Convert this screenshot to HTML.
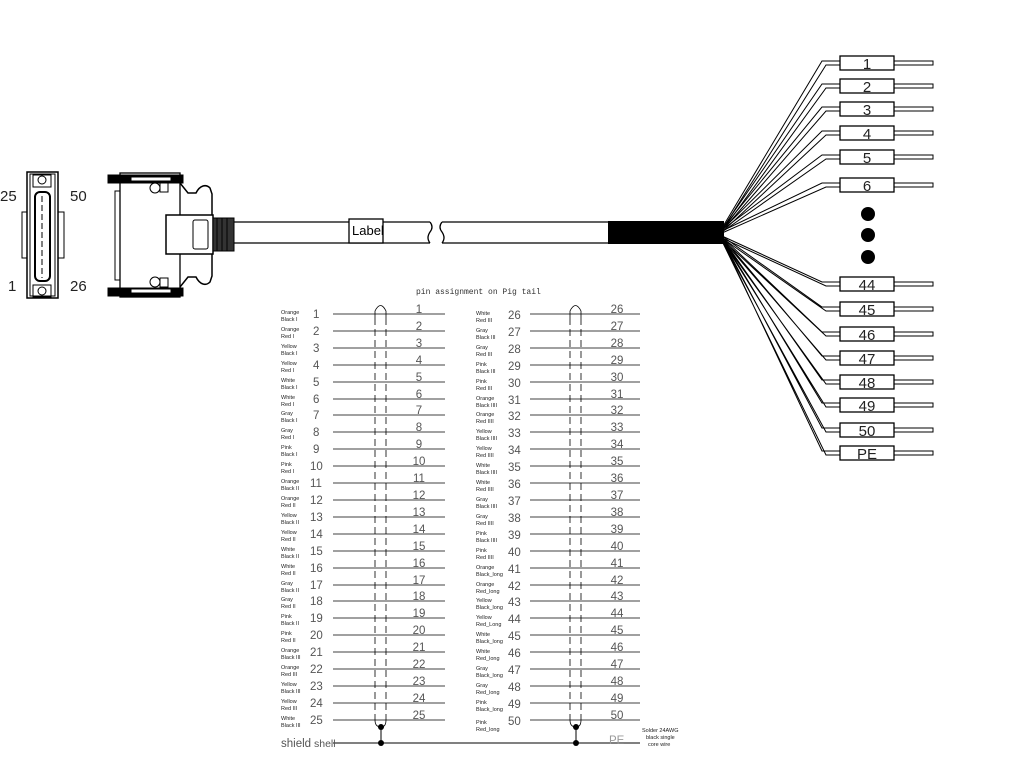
<!DOCTYPE html>
<html><head><meta charset="utf-8"><style>
html,body{margin:0;padding:0;background:#fff}
svg{display:block}
.s{font:5.5px "Liberation Sans",sans-serif;fill:#222}
.n{font:11.5px "Liberation Sans",sans-serif;fill:#333}
.p{font:15px "Liberation Sans",sans-serif;fill:#222}
line,path,polyline{stroke:#000;fill:none}
rect{stroke:#000}
.b{fill:#000}
.w{fill:#fff}
.o{fill:none}
</style></head><body>
<svg width="1024" height="769" viewBox="0 0 1024 769">
<!-- front connector -->
<rect class="o" x="27" y="172" width="31" height="126" stroke-width="1.5"/>
<rect class="o" x="30" y="174" width="25" height="122" stroke-width="1"/>
<rect class="o" x="22" y="212" width="5" height="46"/>
<rect class="o" x="58" y="212" width="6" height="46"/>
<rect class="o" x="35" y="192" width="15" height="89" rx="5" stroke-width="2"/>
<line x1="42" y1="196" x2="42" y2="278" stroke-dasharray="6,3"/>
<circle cx="42" cy="180" r="4" fill="none" stroke="#000"/><circle cx="42" cy="291" r="4" fill="none" stroke="#000"/>
<rect class="o" x="33" y="175" width="18" height="12"/><rect class="o" x="33" y="285" width="18" height="12"/>
<text x="0" y="201" class="p">25</text><text x="70" y="201" class="p">50</text>
<text x="8" y="291" class="p">1</text><text x="70" y="291" class="p">26</text>
<!-- side connector -->
<rect class="b" x="108" y="175" width="75" height="8"/>
<rect class="b" x="108" y="288" width="75" height="8"/>
<rect class="o" x="120" y="173" width="60" height="124" stroke-width="1.3"/>
<rect class="o" x="115" y="191" width="5" height="89"/>
<rect class="w" x="131" y="177" width="40" height="4"/>
<rect class="w" x="131" y="289" width="40" height="4"/>
<circle cx="155" cy="188" r="5" fill="#fff" stroke="#000"/><circle cx="155" cy="282" r="5" fill="#fff" stroke="#000"/>
<rect class="o" x="160" y="183" width="8" height="9"/><rect class="o" x="160" y="278" width="8" height="9"/>
<path d="M180,183 L188,193 L196,193 C200,185 206,184 210,188 L212,194 L212,276 L210,282 C206,286 200,285 196,277 L188,277 L180,287" stroke-width="1.5"/>
<rect class="w" x="166" y="215" width="47" height="39" stroke-width="1.5"/>
<rect class="o" x="193" y="220" width="15" height="29" rx="2"/>
<rect x="213" y="218" width="21" height="33" style="fill:#333"/>
<line x1="217" y1="218" x2="217" y2="251" stroke="#fff"/><line x1="222" y1="218" x2="222" y2="251" stroke="#fff"/><line x1="227" y1="218" x2="227" y2="251" stroke="#fff"/>
<!-- cable -->
<path d="M234,222 L430,222 M234,243 L430,243 M430,222 q4,5 0,10 q-4,6 0,11" stroke-width="1.3"/>
<path d="M442,222 L608,222 M442,243 L608,243 M442,222 q-4,5 0,10 q4,6 0,11" stroke-width="1.3"/>
<rect class="w" x="349" y="219" width="34" height="24" stroke-width="1.3"/>
<text x="352" y="235" style="font:13px 'Liberation Sans',sans-serif">Label</text>
<rect class="b" x="608" y="221" width="116" height="23" style="stroke:none"/>
<!-- fan -->
<g stroke-width="1">
<path d="M722,228 L822,61 L840,61 M722,230 L826,65 L840,65"/>
<path d="M722,229 L822,84 L840,84 M722,231 L826,88 L840,88"/>
<path d="M722,229 L822,107 L840,107 M722,231 L826,111 L840,111"/>
<path d="M722,230 L822,131 L840,131 M722,232 L826,135 L840,135"/>
<path d="M722,230 L822,155 L840,155 M722,232 L826,159 L840,159"/>
<path d="M722,231 L822,183 L840,183 M722,233 L826,187 L840,187"/>
<path d="M722,236 L822,282 L840,282 M722,238 L826,286 L840,286"/>
<path d="M722,236 L822,307 L840,307 M722,238 L826,311 L840,311"/>
<path d="M722,237 L822,332 L840,332 M722,239 L826,336 L840,336"/>
<path d="M722,237 L822,356 L840,356 M722,239 L826,360 L840,360"/>
<path d="M722,238 L822,380 L840,380 M722,240 L826,384 L840,384"/>
<path d="M722,238 L822,403 L840,403 M722,240 L826,407 L840,407"/>
<path d="M722,239 L822,428 L840,428 M722,241 L826,432 L840,432"/>
<path d="M722,239 L822,451 L840,451 M722,241 L826,455 L840,455"/>
</g>
<g stroke-width="1.3" class="w">
<rect class="w" x="840" y="56" width="54" height="14"/><rect class="w" x="840" y="79" width="54" height="14"/><rect class="w" x="840" y="102" width="54" height="14"/><rect class="w" x="840" y="126" width="54" height="14"/><rect class="w" x="840" y="150" width="54" height="14"/><rect class="w" x="840" y="178" width="54" height="14"/>
<rect class="w" x="840" y="277" width="54" height="14"/><rect class="w" x="840" y="302" width="54" height="14"/><rect class="w" x="840" y="327" width="54" height="14"/><rect class="w" x="840" y="351" width="54" height="14"/><rect class="w" x="840" y="375" width="54" height="14"/><rect class="w" x="840" y="398" width="54" height="14"/><rect class="w" x="840" y="423" width="54" height="14"/><rect class="w" x="840" y="446" width="54" height="14"/>
</g>
<g stroke-width="1">
<rect class="o" x="894" y="61" width="39" height="4"/><rect class="o" x="894" y="84" width="39" height="4"/><rect class="o" x="894" y="107" width="39" height="4"/><rect class="o" x="894" y="131" width="39" height="4"/><rect class="o" x="894" y="155" width="39" height="4"/><rect class="o" x="894" y="183" width="39" height="4"/>
<rect class="o" x="894" y="282" width="39" height="4"/><rect class="o" x="894" y="307" width="39" height="4"/><rect class="o" x="894" y="332" width="39" height="4"/><rect class="o" x="894" y="356" width="39" height="4"/><rect class="o" x="894" y="380" width="39" height="4"/><rect class="o" x="894" y="403" width="39" height="4"/><rect class="o" x="894" y="428" width="39" height="4"/><rect class="o" x="894" y="451" width="39" height="4"/>
</g>
<g class="p" text-anchor="middle">
<text x="867" y="69">1</text><text x="867" y="92">2</text><text x="867" y="115">3</text><text x="867" y="139">4</text><text x="867" y="163">5</text><text x="867" y="191">6</text>
<text x="867" y="290">44</text><text x="867" y="315">45</text><text x="867" y="340">46</text><text x="867" y="364">47</text><text x="867" y="388">48</text><text x="867" y="411">49</text><text x="867" y="436">50</text><text x="867" y="459">PE</text>
</g>
<circle cx="868" cy="214" r="7" fill="#000"/><circle cx="868" cy="235" r="7" fill="#000"/><circle cx="868" cy="257" r="7" fill="#000"/>
<!-- table -->
<text x="416" y="294" style="font:8px 'Liberation Mono',monospace;fill:#333">pin assignment on Pig tail</text>
<g stroke="#555" stroke-width="0.8" stroke-dasharray="7,4">
<line x1="375" y1="318" x2="375" y2="720"/><line x1="386" y1="318" x2="386" y2="720"/>
<line x1="570" y1="318" x2="570" y2="720"/><line x1="581" y1="318" x2="581" y2="720"/>
</g>
<path d="M375,318 L375,311 Q380.5,300 386,311 L386,318 M570,318 L570,311 Q575.5,300 581,311 L581,318" stroke="#555" stroke-width="0.8"/>
<path d="M375,720 Q375,727 381,727 Q386,727 386,720 M570,720 Q570,727 576,727 Q581,727 581,720" stroke="#555" stroke-width="0.8"/>
<line x1="381" y1="727" x2="381" y2="743"/><line x1="576" y1="727" x2="576" y2="743"/>
<line x1="333" y1="743" x2="640" y2="743" stroke="#444"/>
<circle cx="381" cy="727" r="3" fill="#000"/><circle cx="381" cy="743" r="3" fill="#000"/><circle cx="576" cy="727" r="3" fill="#000"/><circle cx="576" cy="743" r="3" fill="#000"/>
<text x="281" y="747" class="n" style="fill:#555">shield</text><text x="314" y="747" class="n" style="fill:#555;font-size:10.5px">shell</text>
<text x="609" y="744" class="n" style="fill:#999">PE</text>
<text x="642" y="732" class="s">Solder  24AWG</text><text x="646" y="739" class="s">black  single</text><text x="648" y="746" class="s">core  wire</text>
<g stroke="#444" stroke-width="0.8">
<line x1="333" y1="314" x2="445" y2="314"/><line x1="333" y1="331" x2="445" y2="331"/><line x1="333" y1="348" x2="445" y2="348"/><line x1="333" y1="365" x2="445" y2="365"/><line x1="333" y1="382" x2="445" y2="382"/><line x1="333" y1="399" x2="445" y2="399"/><line x1="333" y1="415" x2="445" y2="415"/><line x1="333" y1="432" x2="445" y2="432"/><line x1="333" y1="449" x2="445" y2="449"/><line x1="333" y1="466" x2="445" y2="466"/><line x1="333" y1="483" x2="445" y2="483"/><line x1="333" y1="500" x2="445" y2="500"/><line x1="333" y1="517" x2="445" y2="517"/><line x1="333" y1="534" x2="445" y2="534"/><line x1="333" y1="551" x2="445" y2="551"/><line x1="333" y1="568" x2="445" y2="568"/><line x1="333" y1="585" x2="445" y2="585"/><line x1="333" y1="601" x2="445" y2="601"/><line x1="333" y1="618" x2="445" y2="618"/><line x1="333" y1="635" x2="445" y2="635"/><line x1="333" y1="652" x2="445" y2="652"/><line x1="333" y1="669" x2="445" y2="669"/><line x1="333" y1="686" x2="445" y2="686"/><line x1="333" y1="703" x2="445" y2="703"/><line x1="333" y1="720" x2="445" y2="720"/>
<line x1="530" y1="314" x2="640" y2="314"/><line x1="530" y1="331" x2="640" y2="331"/><line x1="530" y1="348" x2="640" y2="348"/><line x1="530" y1="365" x2="640" y2="365"/><line x1="530" y1="382" x2="640" y2="382"/><line x1="530" y1="399" x2="640" y2="399"/><line x1="530" y1="415" x2="640" y2="415"/><line x1="530" y1="432" x2="640" y2="432"/><line x1="530" y1="449" x2="640" y2="449"/><line x1="530" y1="466" x2="640" y2="466"/><line x1="530" y1="483" x2="640" y2="483"/><line x1="530" y1="500" x2="640" y2="500"/><line x1="530" y1="517" x2="640" y2="517"/><line x1="530" y1="534" x2="640" y2="534"/><line x1="530" y1="551" x2="640" y2="551"/><line x1="530" y1="568" x2="640" y2="568"/><line x1="530" y1="585" x2="640" y2="585"/><line x1="530" y1="601" x2="640" y2="601"/><line x1="530" y1="618" x2="640" y2="618"/><line x1="530" y1="635" x2="640" y2="635"/><line x1="530" y1="652" x2="640" y2="652"/><line x1="530" y1="669" x2="640" y2="669"/><line x1="530" y1="686" x2="640" y2="686"/><line x1="530" y1="703" x2="640" y2="703"/><line x1="530" y1="720" x2="640" y2="720"/>
</g>
<!-- left numbers -->
<g class="n" style="fill:#555">
<text x="313" y="318">1</text><text x="313" y="335">2</text><text x="313" y="352">3</text><text x="313" y="369">4</text><text x="313" y="386">5</text><text x="313" y="403">6</text><text x="313" y="419">7</text><text x="313" y="436">8</text><text x="313" y="453">9</text><text x="310" y="470">10</text><text x="310" y="487">11</text><text x="310" y="504">12</text><text x="310" y="521">13</text><text x="310" y="538">14</text><text x="310" y="555">15</text><text x="310" y="572">16</text><text x="310" y="589">17</text><text x="310" y="605">18</text><text x="310" y="622">19</text><text x="310" y="639">20</text><text x="310" y="656">21</text><text x="310" y="673">22</text><text x="310" y="690">23</text><text x="310" y="707">24</text><text x="310" y="724">25</text>
</g>
<g class="n" style="fill:#555" text-anchor="middle">
<text x="419" y="313">1</text><text x="419" y="330">2</text><text x="419" y="347">3</text><text x="419" y="364">4</text><text x="419" y="381">5</text><text x="419" y="398">6</text><text x="419" y="414">7</text><text x="419" y="431">8</text><text x="419" y="448">9</text><text x="419" y="465">10</text><text x="419" y="482">11</text><text x="419" y="499">12</text><text x="419" y="516">13</text><text x="419" y="533">14</text><text x="419" y="550">15</text><text x="419" y="567">16</text><text x="419" y="584">17</text><text x="419" y="600">18</text><text x="419" y="617">19</text><text x="419" y="634">20</text><text x="419" y="651">21</text><text x="419" y="668">22</text><text x="419" y="685">23</text><text x="419" y="702">24</text><text x="419" y="719">25</text>
<text x="617" y="313">26</text><text x="617" y="330">27</text><text x="617" y="347">28</text><text x="617" y="364">29</text><text x="617" y="381">30</text><text x="617" y="398">31</text><text x="617" y="414">32</text><text x="617" y="431">33</text><text x="617" y="448">34</text><text x="617" y="465">35</text><text x="617" y="482">36</text><text x="617" y="499">37</text><text x="617" y="516">38</text><text x="617" y="533">39</text><text x="617" y="550">40</text><text x="617" y="567">41</text><text x="617" y="584">42</text><text x="617" y="600">43</text><text x="617" y="617">44</text><text x="617" y="634">45</text><text x="617" y="651">46</text><text x="617" y="668">47</text><text x="617" y="685">48</text><text x="617" y="702">49</text><text x="617" y="719">50</text>
</g>
<g class="n" style="fill:#555">
<text x="508" y="319">26</text><text x="508" y="336">27</text><text x="508" y="353">28</text><text x="508" y="370">29</text><text x="508" y="387">30</text><text x="508" y="404">31</text><text x="508" y="420">32</text><text x="508" y="437">33</text><text x="508" y="454">34</text><text x="508" y="471">35</text><text x="508" y="488">36</text><text x="508" y="505">37</text><text x="508" y="522">38</text><text x="508" y="539">39</text><text x="508" y="556">40</text><text x="508" y="573">41</text><text x="508" y="590">42</text><text x="508" y="606">43</text><text x="508" y="623">44</text><text x="508" y="640">45</text><text x="508" y="657">46</text><text x="508" y="674">47</text><text x="508" y="691">48</text><text x="508" y="708">49</text><text x="508" y="725">50</text>
</g>
<!-- color labels left -->
<g class="s">
<text x="281" y="314">Orange</text><text x="281" y="321">Black I</text>
<text x="281" y="331">Orange</text><text x="281" y="338">Red I</text>
<text x="281" y="348">Yellow</text><text x="281" y="355">Black I</text>
<text x="281" y="365">Yellow</text><text x="281" y="372">Red I</text>
<text x="281" y="382">White</text><text x="281" y="389">Black I</text>
<text x="281" y="399">White</text><text x="281" y="406">Red I</text>
<text x="281" y="415">Gray</text><text x="281" y="422">Black I</text>
<text x="281" y="432">Gray</text><text x="281" y="439">Red I</text>
<text x="281" y="449">Pink</text><text x="281" y="456">Black I</text>
<text x="281" y="466">Pink</text><text x="281" y="473">Red I</text>
<text x="281" y="483">Orange</text><text x="281" y="490">Black II</text>
<text x="281" y="500">Orange</text><text x="281" y="507">Red II</text>
<text x="281" y="517">Yellow</text><text x="281" y="524">Black II</text>
<text x="281" y="534">Yellow</text><text x="281" y="541">Red II</text>
<text x="281" y="551">White</text><text x="281" y="558">Black II</text>
<text x="281" y="568">White</text><text x="281" y="575">Red II</text>
<text x="281" y="585">Gray</text><text x="281" y="592">Black II</text>
<text x="281" y="601">Gray</text><text x="281" y="608">Red II</text>
<text x="281" y="618">Pink</text><text x="281" y="625">Black II</text>
<text x="281" y="635">Pink</text><text x="281" y="642">Red II</text>
<text x="281" y="652">Orange</text><text x="281" y="659">Black III</text>
<text x="281" y="669">Orange</text><text x="281" y="676">Red III</text>
<text x="281" y="686">Yellow</text><text x="281" y="693">Black III</text>
<text x="281" y="703">Yellow</text><text x="281" y="710">Red III</text>
<text x="281" y="720">White</text><text x="281" y="727">Black III</text>
</g>
<g class="s">
<text x="476" y="315">White</text><text x="476" y="322">Red III</text>
<text x="476" y="332">Gray</text><text x="476" y="339">Black III</text>
<text x="476" y="349">Gray</text><text x="476" y="356">Red III</text>
<text x="476" y="366">Pink</text><text x="476" y="373">Black III</text>
<text x="476" y="383">Pink</text><text x="476" y="390">Red III</text>
<text x="476" y="400">Orange</text><text x="476" y="407">Black IIII</text>
<text x="476" y="416">Orange</text><text x="476" y="423">Red IIII</text>
<text x="476" y="433">Yellow</text><text x="476" y="440">Black IIII</text>
<text x="476" y="450">Yellow</text><text x="476" y="457">Red IIII</text>
<text x="476" y="467">White</text><text x="476" y="474">Black IIII</text>
<text x="476" y="484">White</text><text x="476" y="491">Red IIII</text>
<text x="476" y="501">Gray</text><text x="476" y="508">Black IIII</text>
<text x="476" y="518">Gray</text><text x="476" y="525">Red IIII</text>
<text x="476" y="535">Pink</text><text x="476" y="542">Black IIII</text>
<text x="476" y="552">Pink</text><text x="476" y="559">Red IIII</text>
<text x="476" y="569">Orange</text><text x="476" y="576">Black_long</text>
<text x="476" y="586">Orange</text><text x="476" y="593">Red_long</text>
<text x="476" y="602">Yellow</text><text x="476" y="609">Black_long</text>
<text x="476" y="619">Yellow</text><text x="476" y="626">Red_Long</text>
<text x="476" y="636">White</text><text x="476" y="643">Black_long</text>
<text x="476" y="653">White</text><text x="476" y="660">Red_long</text>
<text x="476" y="670">Gray</text><text x="476" y="677">Black_long</text>
<text x="476" y="687">Gray</text><text x="476" y="694">Red_long</text>
<text x="476" y="704">Pink</text><text x="476" y="711">Black_long</text>
<text x="476" y="724">Pink</text><text x="476" y="731">Red_long</text>
</g>
</svg>
</body></html>
